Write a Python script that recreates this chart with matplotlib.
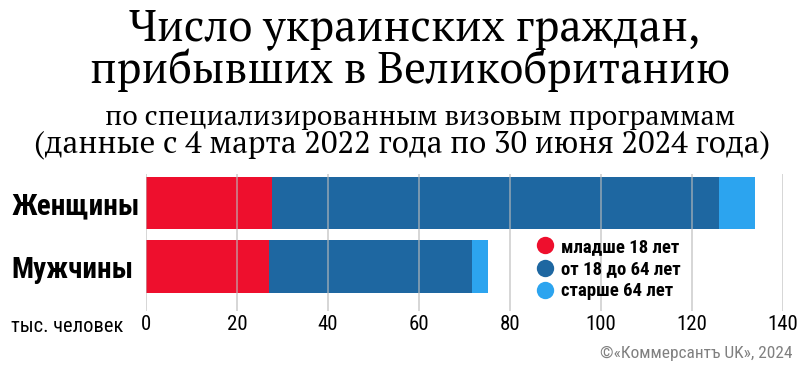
import matplotlib
matplotlib.use("Agg")
import matplotlib.pyplot as plt
from matplotlib.lines import Line2D

categories = ["Женщины", "Мужчины"]
under18 = [27.6, 27.1]
age18_64 = [98.5, 44.6]
over64 = [7.9, 3.5]
series_names = ["младше 18 лет", "от 18 до 64 лет", "старше 64 лет"]
xticks = [0, 20, 40, 60, 80, 100, 120, 140]
title_lines = ["Число украинских граждан,", "прибывших в Великобританию"]
subtitle_lines = ["по специализированным визовым программам",
                  "(данные с 4 марта 2022 года по 30 июня 2024 года)"]
unit_label = "тыс. человек"
credit = "©«Коммерсантъ UK», 2024"

colors = ["#EE0F2D", "#1E67A1", "#2CA4EF"]
narrow = ["Roboto Condensed", "DejaVu Sans"]
serif = ["PT Serif", "Liberation Serif", "DejaVu Serif"]

W, H = 800, 373
fig = plt.figure(figsize=(W / 100, H / 100), dpi=100)
ax = fig.add_axes([146 / W, 1 - 311 / H, (782.7 - 146) / W, (311 - 174) / H])

ypos = [1, 0]
h = 0.82
left = [0, 0]
for vals, c in zip([under18, age18_64, over64], colors):
    ax.barh(ypos, vals, left=left, height=h, color=c, zorder=2)
    left = [l + v for l, v in zip(left, vals)]

ax.set_xlim(0, 140)
ax.set_ylim(-0.70, 1.457)
ax.set_xticks(xticks)
ax.set_xticklabels([str(t) for t in xticks], fontfamily=narrow, fontsize=15)
ax.xaxis.grid(True, color="#bbbbbb", linewidth=1.1, alpha=0.75, zorder=3)
ax.set_axisbelow(False)
for s in ax.spines.values():
    s.set_visible(False)
ax.tick_params(axis="x", length=0, pad=3)
ax.set_yticks(ypos)
ax.set_yticklabels(categories, fontfamily=narrow, fontsize=21, fontweight="bold", ha="left")
ax.tick_params(axis="y", length=0, pad=(146 - 11) * 0.72)

fig.text(11 / W, 1 - 332 / H, unit_label, fontfamily=narrow, fontsize=14.8, va="baseline", ha="left")

fig.canvas.draw()
renderer = fig.canvas.get_renderer()


def fitted_text(x, y, s, width, size, **kw):
    t = fig.text(x / W, 1 - y / H, s, fontsize=size, ha="center", va="baseline", **kw)
    w = t.get_window_extent(renderer).width
    t.set_fontsize(size * width / w)
    return t


fitted_text(415, 40, title_lines[0], 570, 30, fontfamily=serif)
fitted_text(410, 83, title_lines[1], 640, 30, fontfamily=serif)
fitted_text(420, 125, subtitle_lines[0], 630, 20, fontfamily=serif)
fitted_text(402, 152, subtitle_lines[1], 735, 20, fontfamily=serif)

fig.text(793 / W, 1 - 358 / H, credit, fontfamily=narrow, fontsize=12.5, color="#808080",
         ha="right", va="baseline")

handles = [Line2D([], [], marker="o", linestyle="none", markersize=12.5, markerfacecolor=c,
                  markeredgecolor="none") for c in colors]
leg = ax.legend(handles, series_names, loc="upper left", bbox_to_anchor=(535.6 / W, 1 - 238 / H),
                bbox_transform=fig.transFigure, frameon=False, handletextpad=0.35,
                labelspacing=0.22, borderaxespad=0, handlelength=1.0, borderpad=0,
                prop={"family": narrow, "weight": "bold", "size": 13.5})

fig.savefig("out.png", dpi=100)
